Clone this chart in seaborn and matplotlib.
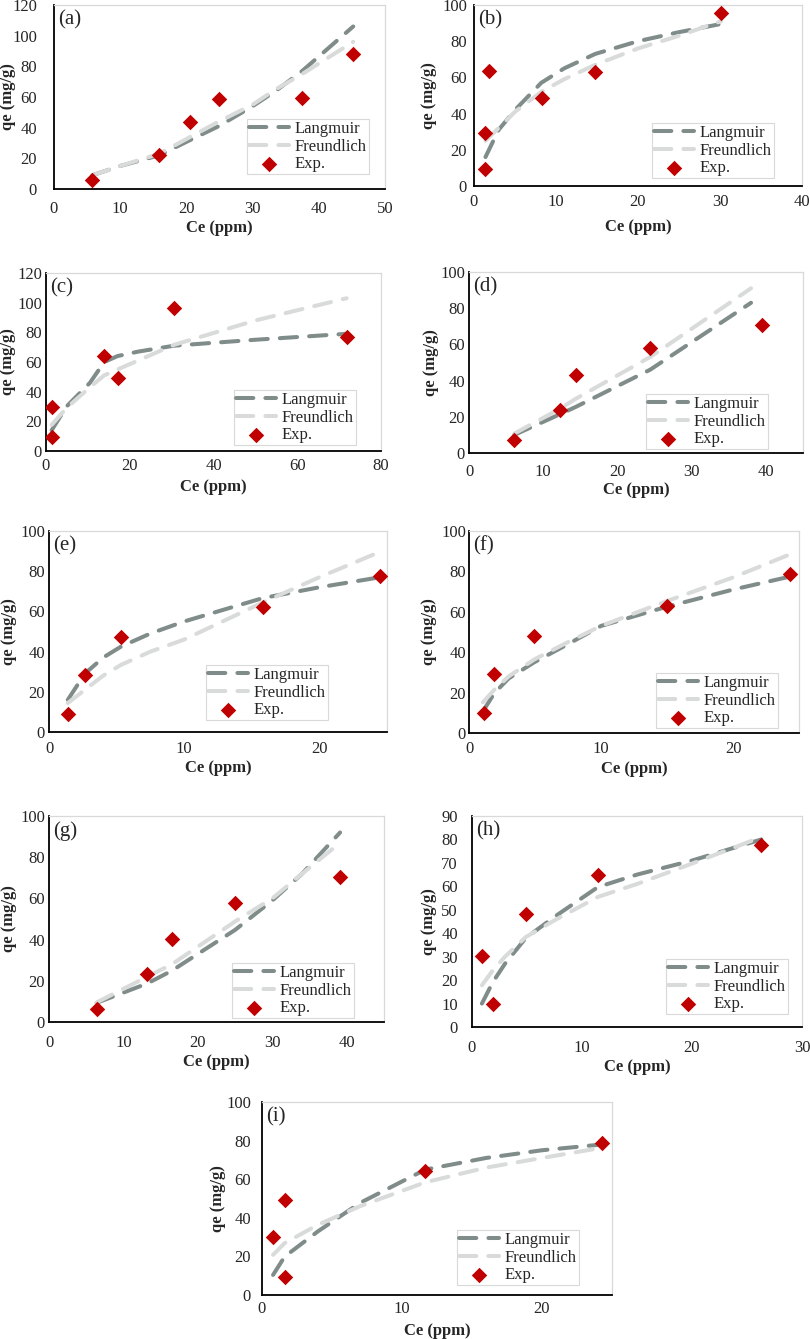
import matplotlib
matplotlib.use('Agg')
import matplotlib.pyplot as plt
import seaborn as sns

# ---------------------------------------------------------------
# dados (Ce em ppm, qe em mg/g)

a_ce = [5.8, 15.9, 20.6, 24.9, 37.5, 45.2]
a_qe = [5.9, 22.3, 43.5, 58.4, 59.2, 88.3]
a_ce_fit = [5.8, 10, 15.9, 20.6, 24.9, 30, 33.5, 37.5, 45.2]
a_lang = [9, 15, 22, 32, 41, 54, 64, 77, 106]
a_freu = [9, 15, 23, 34, 44, 55, 65, 75, 96]

b_ce = [1.4, 1.4, 1.8, 8.25, 14.75, 30.1]
b_qe = [9.2, 29.5, 63.5, 48.8, 62.8, 95.4]
b_ce_fit = [1.4, 3, 5, 8.2, 11, 14.8, 20, 25, 30.1]
b_lang = [16, 31, 42, 57, 65, 73, 80, 85, 89.5]
b_freu = [25, 32, 41, 52, 59, 67, 76, 83, 91]

c_ce = [1.35, 1.35, 13.9, 17.1, 30.6, 71.8]
c_qe = [9.7, 30, 64, 49.3, 96.2, 76.6]
c_ce_fit = [1.35, 4.9, 10.5, 13.9, 17.1, 22, 30.6, 50, 71.8]
c_lang = [14, 30, 46, 60, 64, 67, 71, 75, 79]
c_freu = [17.6, 29, 43, 51, 55, 61, 71.6, 88, 103]

d_ce = [6.1, 12.3, 14.4, 24.4, 39.5]
d_qe = [7, 23.7, 43, 58.2, 70.8]
d_ce_fit = [6.1, 12.3, 14.4, 24.4, 38]
d_lang = [10, 21.5, 25.5, 46, 83]
d_freu = [10.7, 24.6, 30, 53, 91]

e_ce = [1.39, 2.65, 5.33, 15.8, 24.5]
e_qe = [9.1, 28.5, 47.5, 62.1, 77.8]
e_ce_fit = [1.39, 2.65, 4, 5.33, 7.5, 10, 15.8, 20, 24.5]
e_lang = [16, 29, 37, 42.5, 49, 55, 66.6, 72, 77]
e_freu = [14.4, 21, 28, 33.4, 40, 46, 64.4, 77, 89.7]

f_ce = [1.13, 1.93, 4.94, 14.98, 24.3]
f_qe = [9.9, 29.4, 47.9, 63.1, 78.5]
f_ce_fit = [1.05, 1.93, 3, 4.94, 7.5, 10, 14.98, 20, 24.3]
f_lang = [10.7, 19.8, 27, 35, 44, 53, 62.5, 71, 77.4]
f_freu = [15.2, 21.5, 28, 36.4, 45, 53, 65.3, 77, 88.4]

g_ce = [6.4, 13.2, 16.5, 25, 39.1]
g_qe = [6.5, 23.3, 40.2, 57.7, 70.4]
g_ce_fit = [6.4, 13.2, 16.5, 25, 30, 34, 39.1]
g_lang = [9.3, 18.7, 24.9, 44.7, 59, 72, 92]
g_freu = [9.5, 22, 28, 48.8, 60, 72, 87]

h_ce = [0.9, 1.9, 4.9, 11.45, 26.3]
h_qe = [30.3, 9.8, 48.4, 65, 77.5]
h_ce_fit = [0.9, 1.9, 3, 4.9, 7.5, 11.45, 15, 20, 26.3]
h_lang = [10, 19.2, 27, 38, 47, 59.7, 65, 71, 80]
h_freu = [17.8, 24.2, 30, 38.4, 45.5, 55.5, 61, 69.7, 81]

i_ce = [0.79, 1.62, 1.62, 11.67, 24.3]
i_qe = [29.8, 9.2, 49.4, 64.5, 78.5]
i_ce_fit = [0.79, 1.62, 4, 7, 11.67, 16, 20, 24.3]
i_lang = [10.4, 19.9, 33, 47.7, 65, 71, 75, 78]
i_freu = [20.8, 26.9, 36.4, 46, 58.4, 66, 71, 76.3]

letras = ['(a)', '(b)', '(c)', '(d)', '(e)', '(f)', '(g)', '(h)', '(i)']
x_max = [50, 40, 80, 45, 25, 25, 45, 30, 25]
x_step = [10, 10, 20, 10, 10, 10, 10, 10, 10]
y_max = [120, 100, 120, 100, 100, 100, 100, 90, 100]
y_step = [20, 20, 20, 20, 20, 20, 20, 10, 20]

# ---------------------------------------------------------------
# layout (pixels da figura 810x1339)

W, H = 810, 1339
# left, top, right, bottom
caixas = [(54, 5, 385, 189), (474, 5, 802, 186),
          (46, 273, 381, 451), (469, 272, 803, 453),
          (49, 531, 387, 732), (469, 531, 799, 733),
          (49, 816, 384, 1022), (472, 816, 802, 1027),
          (262, 1102, 612, 1295)]
# distancia label y -> eixo, centro dos ticks x, centro do label x, centro do label y
pad_y = [17, 7, 4, 4, 4, 3, 4, 14, 11]
off_xt = [21, 17, 16, 20, 18, 17, 22, 22, 15]
off_xl = [39, 41, 36, 37, 36, 36, 40, 40, 36]
ylab_x = [8, 429, 8, 431, 9, 429, 9, 429, 218]
# legenda: left, top
leg_pos = [(247, 119), (652, 123), (234, 390), (646, 394), (206, 665),
           (656, 673), (232, 963), (666, 959), (457, 1230)]

cor_lang = '#7f8c8a'
cor_freu = '#d9dbdb'
cor_exp = '#c00000'

sns.set_style('white')
plt.rcParams['font.family'] = ['Liberation Serif', 'DejaVu Serif']

fig = plt.figure(figsize=(W / 100, H / 100), dpi=100)

dados = [
    (a_ce, a_qe, a_ce_fit, a_lang, a_freu),
    (b_ce, b_qe, b_ce_fit, b_lang, b_freu),
    (c_ce, c_qe, c_ce_fit, c_lang, c_freu),
    (d_ce, d_qe, d_ce_fit, d_lang, d_freu),
    (e_ce, e_qe, e_ce_fit, e_lang, e_freu),
    (f_ce, f_qe, f_ce_fit, f_lang, f_freu),
    (g_ce, g_qe, g_ce_fit, g_lang, g_freu),
    (h_ce, h_qe, h_ce_fit, h_lang, h_freu),
    (i_ce, i_qe, i_ce_fit, i_lang, i_freu),
]

traco = (0, (4.3, 3.0))
fs = 12

for k, (ce, qe, ce_fit, lang, freu) in enumerate(dados):
    l, t, r, b = caixas[k]
    ax = fig.add_axes([l / W, 1 - b / H, (r - l) / W, (b - t) / H])

    sns.lineplot(x=ce_fit, y=lang, ax=ax, color=cor_lang, lw=2.9,
                 linestyle=traco, dash_capstyle='round', estimator=None,
                 sort=False, label='Langmuir')
    sns.lineplot(x=ce_fit, y=freu, ax=ax, color=cor_freu, lw=2.9,
                 linestyle=traco, dash_capstyle='round', estimator=None,
                 sort=False, label='Freundlich')
    sns.scatterplot(x=ce, y=qe, ax=ax, marker='D', s=62, color=cor_exp,
                    linewidth=0, label='Exp.', zorder=5)

    ax.set_xlim(0, x_max[k])
    ax.set_ylim(0, y_max[k])
    ax.set_xticks(range(0, x_max[k] + 1, x_step[k]))
    ax.set_yticks(range(0, y_max[k] + 1, y_step[k]))

    # eixos estilo excel
    for s in ['left', 'bottom']:
        ax.spines[s].set_color('black')
        ax.spines[s].set_linewidth(1.3)
    for s in ['top', 'right']:
        ax.spines[s].set_color('#d9d9d9')
        ax.spines[s].set_linewidth(0.9)
    ax.tick_params(axis='y', length=0, pad=pad_y[k] * 0.72, labelsize=fs)
    ax.tick_params(axis='x', length=0, pad=(off_xt[k] - 9) * 0.72,
                   labelsize=fs)

    ax.set_xlabel('Ce (ppm)', fontsize=fs, fontweight='bold')
    ax.xaxis.label.set_va('center')
    ax.xaxis.set_label_coords(0.5, -off_xl[k] / (b - t))
    ax.set_ylabel('qe (mg/g)', fontsize=fs, fontweight='bold')
    ax.yaxis.label.set_va('center')
    ax.yaxis.set_label_coords((ylab_x[k] - l) / (r - l), 0.5)

    ax.text(4 / (r - l), 1 - 15 / (b - t), letras[k], transform=ax.transAxes,
            fontsize=15, ha='left', va='center')

    lx, ly = leg_pos[k]
    handles, labels = ax.get_legend_handles_labels()
    ax.legend(handles, labels, loc='upper left',
              bbox_to_anchor=((lx - l) / (r - l), (b - ly) / (b - t)),
              fontsize=fs, frameon=True, fancybox=False, edgecolor='#d9d9d9',
              framealpha=1, borderpad=0.12, handlelength=2.4,
              handletextpad=0.35, labelspacing=0.1, borderaxespad=0,
              scatterpoints=1)
    ax.get_legend().get_frame().set_linewidth(0.8)

fig.savefig('out.png', dpi=100)
